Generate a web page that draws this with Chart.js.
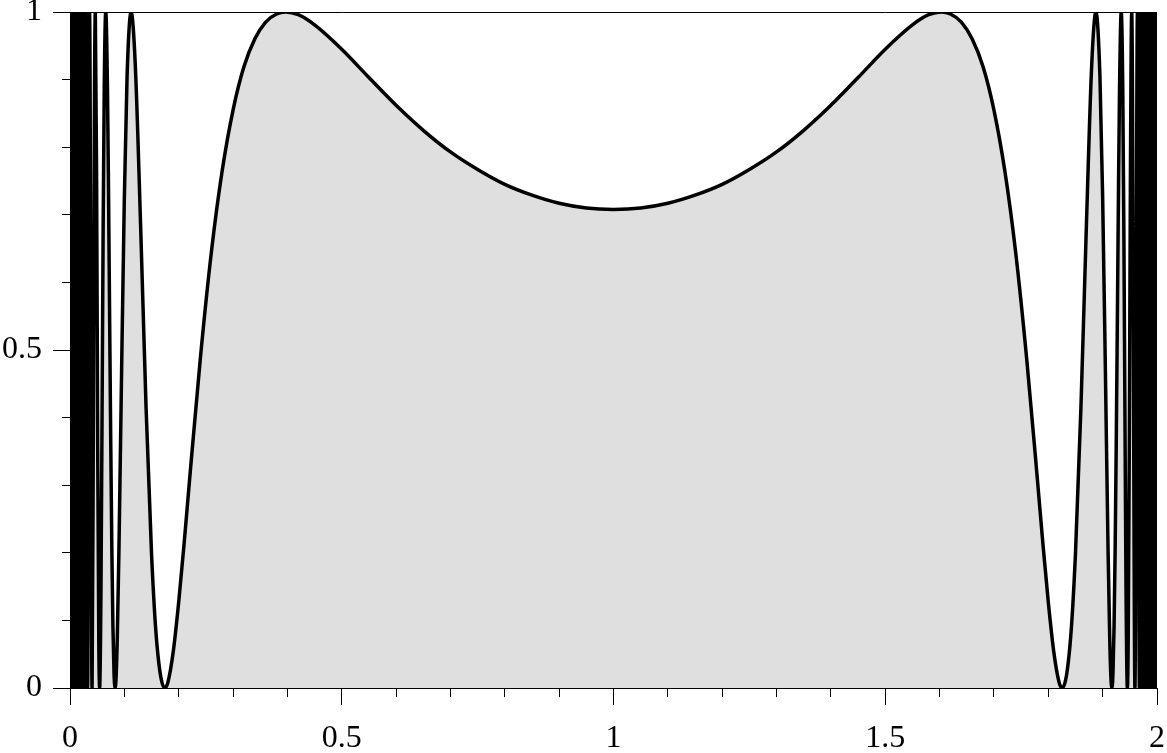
<!DOCTYPE html>
<html>
<head>
<meta charset="utf-8">
<script src="https://cdn.jsdelivr.net/npm/chart.js@4.4.1/dist/chart.umd.min.js"></script>
<style>
  html, body { margin: 0; padding: 0; background: #fff; }
  canvas { display: block; }
</style>
</head>
<body>
<canvas id="plot" width="1167" height="753"></canvas>
<script>
// Curve, left half (x from 0 to 1)
const xLeft = [0, 0.001, 0.002, 0.003, 0.004, 0.005, 0.006, 0.007, 0.008, 0.009, 0.010, 0.0107,
  0.01143, 0.01186, 0.01232, 0.01281, 0.01335, 0.01394, 0.01457, 0.01527, 0.01604, 0.01689,
  0.01784, 0.0189, 0.0201, 0.02145, 0.0230, 0.02479, 0.02688, 0.02936, 0.03235, 0.03602,
  0.04061, 0.043, 0.045, 0.04656, 0.049, 0.051, 0.053, 0.05453, 0.057, 0.059, 0.061, 0.063,
  0.06582, 0.069, 0.071, 0.073, 0.075, 0.077, 0.079, 0.081, 0.08302, 0.085, 0.087, 0.09,
  0.095, 0.10, 0.105, 0.1124, 0.12, 0.13, 0.14, 0.15, 0.16, 0.1743, 0.18, 0.19, 0.20, 0.21,
  0.22, 0.24, 0.26, 0.28, 0.30, 0.32, 0.34, 0.36, 0.38, 0.397, 0.42, 0.45, 0.5, 0.55, 0.6,
  0.65, 0.7, 0.75, 0.8, 0.85, 0.9, 0.95, 1.0];
const yLeft = [0, 1, 0, 1, 0, 1, 0, 1, 0, 1, 0, 1,
  0, 1, 0, 1, 0, 1, 0, 1, 0, 1,
  0, 1, 0, 1, 0, 1, 0, 1, 0, 1,
  0, 0.398, 0.868, 1, 0.741, 0.353, 0.069, 0, 0.148, 0.408, 0.681, 0.888,
  1, 0.883, 0.725, 0.540, 0.360, 0.205, 0.091, 0.022, 0, 0.019, 0.074, 0.202,
  0.472, 0.726, 0.905, 1, 0.924, 0.682, 0.414, 0.199, 0.064, 0, 0.008, 0.054, 0.127, 0.214,
  0.308, 0.489, 0.644, 0.765, 0.855, 0.919, 0.960, 0.985, 0.997, 1, 0.996, 0.981, 0.945, 0.903, 0.862,
  0.825, 0.793, 0.767, 0.745, 0.729, 0.717, 0.710, 0.708];

// right half (x from 1 to 2)
const xRight = [1.05, 1.1, 1.15, 1.2, 1.25, 1.3, 1.35, 1.4, 1.45, 1.5, 1.55, 1.58, 1.603,
  1.62, 1.64, 1.66, 1.68, 1.70, 1.72, 1.74, 1.76, 1.78, 1.79, 1.80, 1.81, 1.82, 1.8257,
  1.84, 1.85, 1.86, 1.87, 1.88, 1.8876, 1.895, 1.90, 1.905, 1.91, 1.913, 1.915, 1.91698,
  1.919, 1.921, 1.923, 1.925, 1.927, 1.929, 1.931, 1.93418, 1.937, 1.939, 1.941, 1.943,
  1.94547, 1.947, 1.949, 1.951, 1.95344, 1.955, 1.957, 1.95939, 1.96398, 1.96765, 1.97064,
  1.97312, 1.97521, 1.977, 1.97855, 1.9799, 1.9811, 1.98216, 1.98311, 1.98396, 1.98473,
  1.98543, 1.98606, 1.98665, 1.98719, 1.98768, 1.98814, 1.98857, 1.9893, 1.990, 1.991,
  1.992, 1.993, 1.994, 1.995, 1.996, 1.997, 1.998, 1.999, 2.0];
const yRight = [0.710, 0.717, 0.729, 0.745, 0.767, 0.793, 0.825, 0.862, 0.903, 0.945, 0.981, 0.996, 1,
  0.997, 0.985, 0.960, 0.919, 0.855, 0.765, 0.644, 0.489, 0.308, 0.214, 0.127, 0.054, 0.008, 0,
  0.064, 0.199, 0.414, 0.682, 0.924, 1, 0.905, 0.726, 0.472, 0.202, 0.074, 0.019, 0,
  0.022, 0.091, 0.205, 0.360, 0.540, 0.725, 0.883, 1, 0.888, 0.681, 0.408, 0.148,
  0, 0.069, 0.353, 0.741, 1, 0.868, 0.398, 0, 1, 0, 1,
  0, 1, 0, 1, 0, 1, 0, 1, 0, 1,
  0, 1, 0, 1, 0, 1, 0, 1, 0, 1,
  0, 1, 0, 1, 0, 1, 0, 1, 0, 1, 0];

// tick labels
const xTickValues = [0, 0.5, 1, 1.5, 2];
const xTickLabels = ['0', '0.5', '1', '1.5', '2'];
const yTickValues = [0, 0.5, 1];
const yTickLabels = ['0', '0.5', '1'];

const xs = xLeft.concat(xRight);
const ys = yLeft.concat(yRight);
const points = xs.map((x, i) => ({ x: x, y: ys[i] }));

function labelFor(values, labels, v) {
  const i = values.findIndex(t => Math.abs(t - v) < 1e-6);
  return i >= 0 ? labels[i] : '';
}
function isMajor(values, v) {
  return values.some(t => Math.abs(t - v) < 1e-6);
}

const tickFont = { family: "'Liberation Serif', 'DejaVu Serif', serif", size: 32 };

new Chart(document.getElementById('plot').getContext('2d'), {
  type: 'line',
  data: {
    datasets: [{
      data: points,
      borderColor: '#000',
      borderWidth: 3.5,
      backgroundColor: '#dfdfdf',
      fill: 'origin',
      pointRadius: 0,
      cubicInterpolationMode: 'monotone'
    }]
  },
  options: {
    responsive: false,
    animation: false,
    devicePixelRatio: 1,
    layout: { padding: { top: 12, right: 10, left: 0, bottom: 0 } },
    plugins: { legend: { display: false }, tooltip: { enabled: false } },
    scales: {
      x: {
        type: 'linear',
        min: 0,
        max: 2,
        border: { color: '#000', width: 1 },
        grid: {
          drawOnChartArea: false,
          tickLength: 17,
          tickColor: '#000',
          tickBorderDash: ctx => isMajor(xTickValues, ctx.tick.value) ? [] : [8, 100]
        },
        ticks: {
          stepSize: 0.1,
          autoSkip: false,
          maxRotation: 0,
          color: '#000',
          font: tickFont,
          padding: 14,
          callback: v => labelFor(xTickValues, xTickLabels, v)
        },
        afterFit: scale => {
          scale.height = 65;
          scale.paddingLeft = 0;
          scale.paddingRight = 0;
        }
      },
      y: {
        type: 'linear',
        min: 0,
        max: 1,
        border: { color: '#000', width: 1 },
        grid: {
          color: ctx => Math.abs(ctx.tick.value - 1) < 1e-6 ? '#000' : 'rgba(0,0,0,0)',
          tickLength: 17,
          tickColor: '#000',
          tickBorderDash: ctx => isMajor(yTickValues, ctx.tick.value) ? [] : [0, 9, 8, 100]
        },
        ticks: {
          stepSize: 0.1,
          autoSkip: false,
          color: '#000',
          font: tickFont,
          padding: 11,
          callback: v => labelFor(yTickValues, yTickLabels, v)
        },
        afterFit: scale => {
          scale.width = 70;
          scale.paddingTop = 0;
          scale.paddingBottom = 0;
        }
      }
    }
  }
});
</script>
</body>
</html>
